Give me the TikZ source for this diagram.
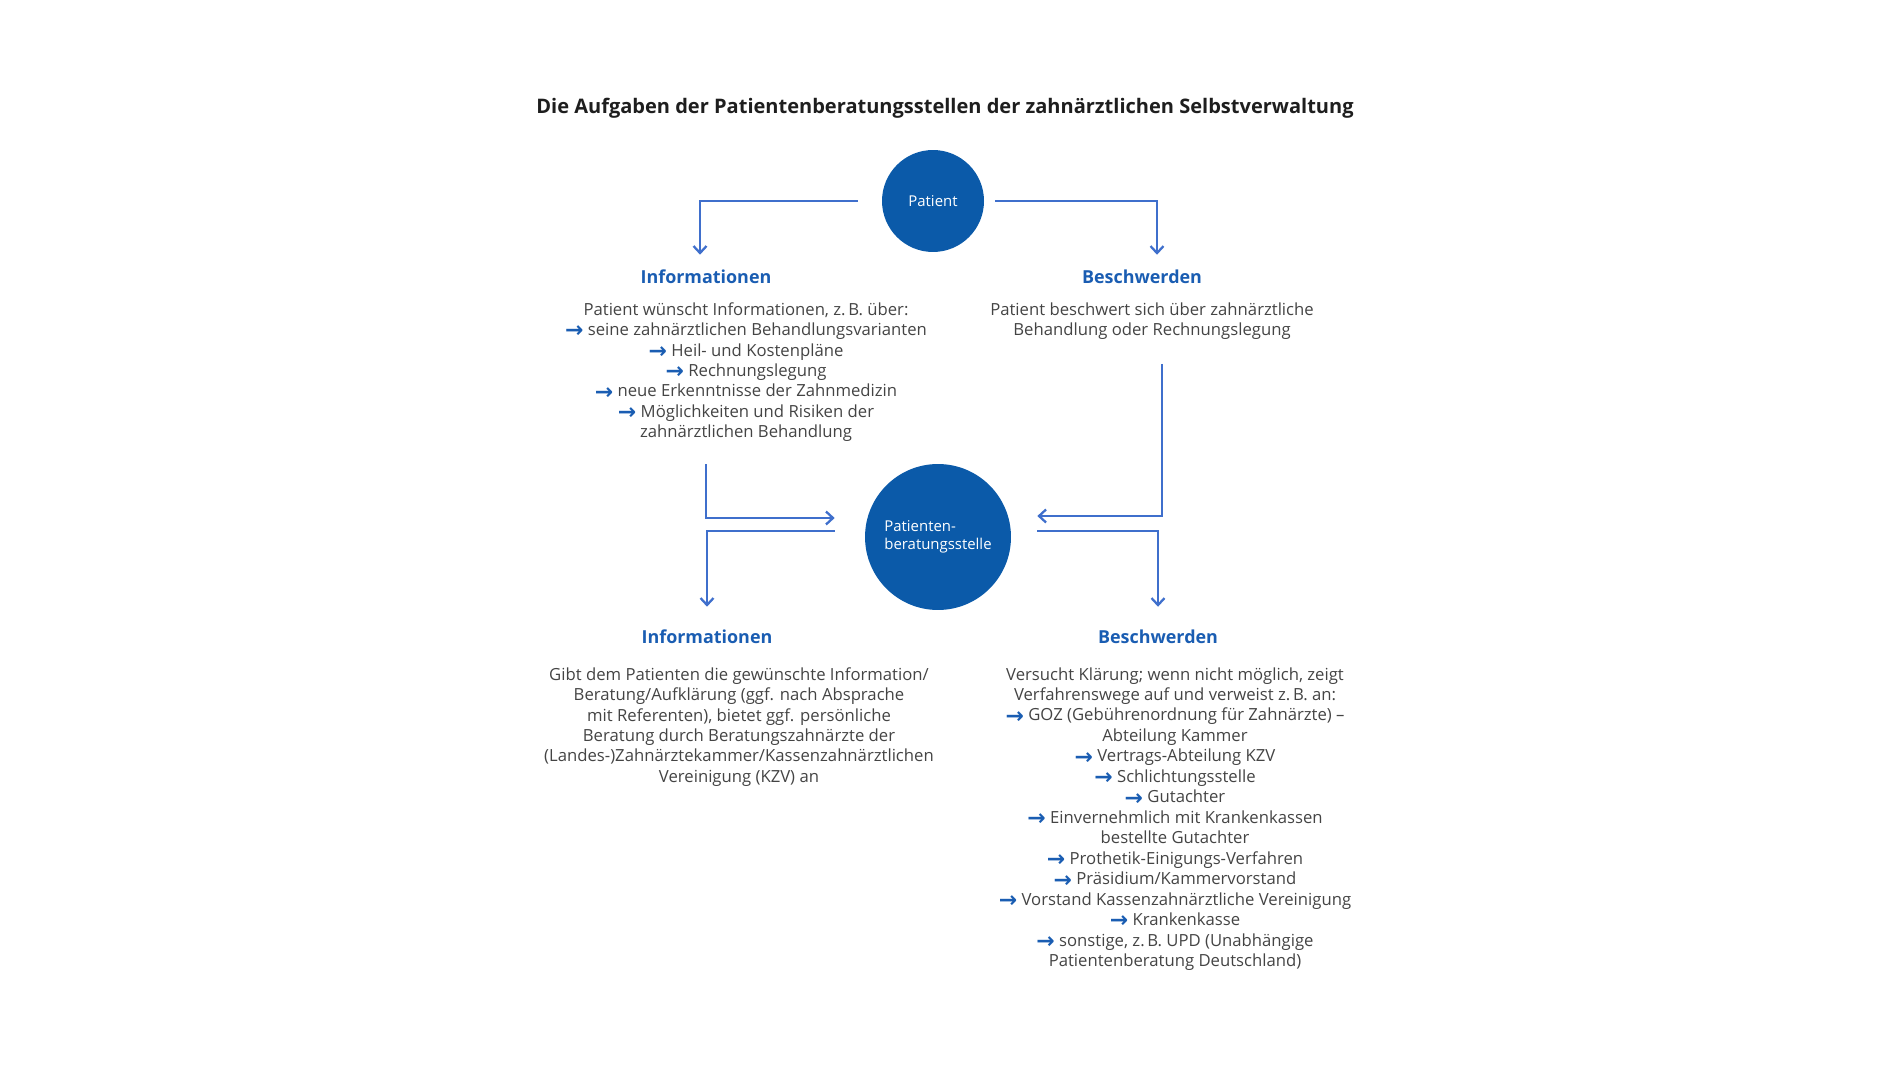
\documentclass[tikz,border=0pt]{standalone}
\usepackage{fontspec}
\setmainfont{Open Sans}
\newfontfamily\arrowfont{DejaVu Sans}
\usepackage{xcolor}
\usepackage{tikz}
\usetikzlibrary{arrows.meta,calc,positioning}
\definecolor{zbdisc}{HTML}{0B5AA9}
\definecolor{zbhead}{HTML}{1A5DB2}
\definecolor{zbline}{HTML}{3F6FCC}
\definecolor{zbtext}{HTML}{444444}
\definecolor{zbtitle}{HTML}{1E1E1E}
\newcommand\zarr{\textcolor{zbhead}{\arrowfont\bfseries\fontsize{12.5}{0}\selectfont\smash{\raisebox{-1.3pt}{→}}}}
\tikzset{
  disc/.style={circle,fill=zbdisc,text=white,minimum size=#1,inner sep=0pt,
    align=left,font=\fontsize{8.5}{10.5}\selectfont},
  disc/.default=2cm,
  headline/.style={inner sep=0pt,text=zbhead,font=\fontsize{10.2}{12}\selectfont\bfseries},
  bodytext/.style={inner sep=0pt,anchor=north,align=center,text=zbtext,
    font=\fontsize{9.5}{11.65}\selectfont},
  link/.style={-{Straight Barb[length=1.4mm,width=2.6mm]},line width=1.3pt,draw=zbline}
}
\begin{document}
\begin{tikzpicture}[x=0.02cm,y=-0.02cm]
\useasboundingbox (0,0) rectangle (1900,1070);
\node[inner sep=0pt,text=zbtitle,font=\fontsize{11.4}{13}\selectfont\bfseries] (title) at (945,108)
  {Die Aufgaben der Patientenberatungsstellen der zahnärztlichen Selbstverwaltung};
\node[disc=2.04cm] (pat) at (933,201) {Patient};
\node[disc=2.92cm] (pbs) at (938,537) {Patienten-\\beratungsstelle};
\node[headline] (infoA) at (706,277) {Informationen};
\node[headline] (beschA) at (1142,277) {Beschwerden};
\node[bodytext] (infoAtxt) at (746,302) {Patient wünscht Informationen, z.\,B. über:\\
  \zarr{} seine zahnärztlichen Behandlungsvarianten\\
  \zarr{} Heil- und Kostenpläne\\
  \zarr{} Rechnungslegung\\
  \zarr{} neue Erkenntnisse der Zahnmedizin\\
  \zarr{} Möglichkeiten und Risiken der\\
  zahnärztlichen Behandlung};
\node[bodytext] (beschAtxt) at (1152,302) {Patient beschwert sich über zahnärztliche\\
  Behandlung oder Rechnungslegung};
\node[headline] (infoB) at (707,637) {Informationen};
\node[headline] (beschB) at (1158,637) {Beschwerden};
\node[bodytext] (infoBtxt) at (739,667) {Gibt dem Patienten die gewünschte Information/\\
  Beratung/Aufklärung (ggf. nach Absprache\\
  mit Referenten), bietet ggf. persönliche\\
  Beratung durch Beratungszahnärzte der\\
  (Landes-)Zahnärztekammer/Kassenzahnärztlichen\\
  Vereinigung (KZV) an};
\node[bodytext] (beschBtxt) at (1175,667) {Versucht Klärung; wenn nicht möglich, zeigt\\
  Verfahrenswege auf und verweist z.\,B. an:\\
  \zarr{} GOZ (Gebührenordnung für Zahnärzte) --\\
  Abteilung Kammer\\
  \zarr{} Vertrags-Abteilung KZV\\
  \zarr{} Schlichtungsstelle\\
  \zarr{} Gutachter\\
  \zarr{} Einvernehmlich mit Krankenkassen\\
  bestellte Gutachter\\
  \zarr{} Prothetik-Einigungs-Verfahren\\
  \zarr{} Präsidium/Kammervorstand\\
  \zarr{} Vorstand Kassenzahnärztliche Vereinigung\\
  \zarr{} Krankenkasse\\
  \zarr{} sonstige, z.\,B. UPD (Unabhängige\\
  Patientenberatung Deutschland)};
\draw[link,shorten <=0.48cm,shorten >=0.3cm] (pat.west) -| ([xshift=-0.12cm]infoA.north);
\draw[link,shorten <=0.22cm,shorten >=0.3cm] (pat.east) -| ([xshift=0.3cm]beschA.north);
\draw[link,shorten <=0.44cm,shorten >=0.6cm] (infoA |- infoAtxt.south) |- ([yshift=0.38cm]pbs.west);
\draw[link,shorten <=0.6cm,shorten >=0.46cm] ([yshift=0.12cm]pbs.west) -| (infoB.north);
\draw[link,shorten <=0.48cm,shorten >=0.52cm] ([xshift=0.2cm]beschAtxt.south) |- ([yshift=0.42cm]pbs.east);
\draw[link,shorten <=0.52cm,shorten >=0.46cm] ([yshift=0.12cm]pbs.east) -| (beschB.north);
\end{tikzpicture}
\end{document}
